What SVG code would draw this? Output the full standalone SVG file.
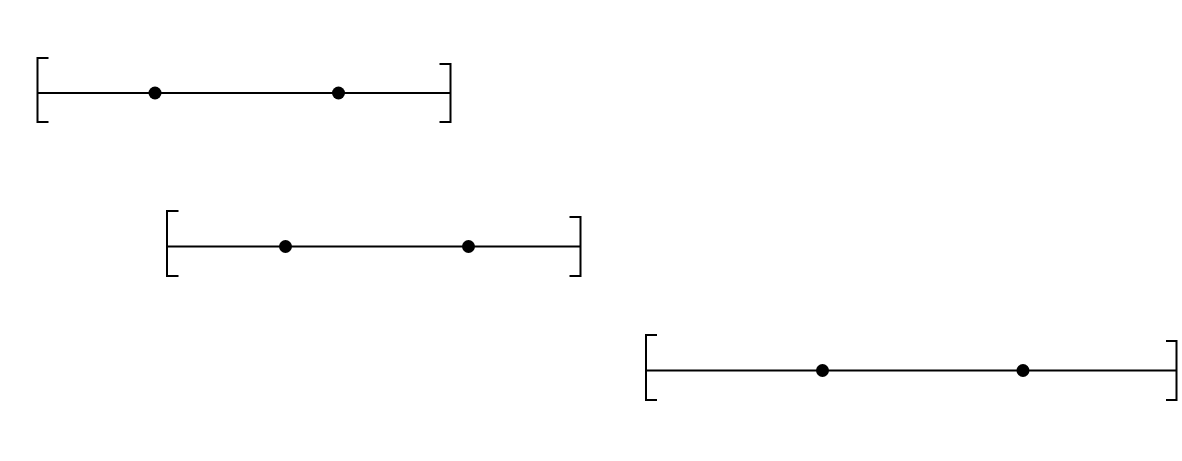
<svg xmlns="http://www.w3.org/2000/svg" width="1182" height="461" viewBox="0 0 1182 461">
<style>
.ln{stroke:#000;stroke-width:2;fill:none}
.dot{fill:#000}
</style>
<rect width="1182" height="461" fill="#fff"/>
<g id="connectors">
<line class="ln" x1="37.5" y1="93" x2="450.5" y2="93"/>
<line class="ln" x1="167" y1="246.5" x2="580.5" y2="246.5"/>
<line class="ln" x1="646" y1="370.5" x2="1176.5" y2="370.5"/>
</g>
<g id="bar1">
<path class="ln" d="M48.5,58 H37.5 V122 H48.5"/>
<path class="ln" d="M439.5,64 H450.5 V122 H439.5"/>
<circle class="dot" cx="155" cy="93" r="6.5"/>
<circle class="dot" cx="338.5" cy="93" r="6.5"/>
</g>
<g id="bar2">
<path class="ln" d="M178.5,211 H167 V276 H178.5"/>
<path class="ln" d="M569.5,217 H580.5 V276 H569.5"/>
<circle class="dot" cx="285.5" cy="246.5" r="6.5"/>
<circle class="dot" cx="468.5" cy="246.5" r="6.5"/>
</g>
<g id="bar3">
<path class="ln" d="M657,335 H646 V400 H657"/>
<path class="ln" d="M1166,341 H1176.5 V400 H1166"/>
<circle class="dot" cx="822.5" cy="370.5" r="6.5"/>
<circle class="dot" cx="1023" cy="370.5" r="6.5"/>
</g>
</svg>
